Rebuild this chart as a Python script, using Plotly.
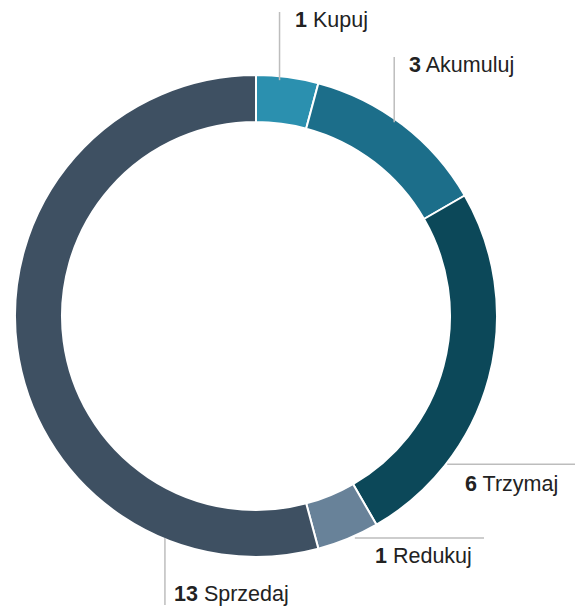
import math
import plotly.graph_objects as go

# ---- data ----
categories = ["Kupuj", "Akumuluj", "Trzymaj", "Redukuj", "Sprzedaj"]
counts = [1, 3, 6, 1, 13]
colors = ["#2B90AF", "#1C6E8A", "#0C4859", "#688299", "#3E5062"]

# ---- layout geometry (pixels) ----
W, H = 577, 610
CX, CY, R = 256, 316, 241
HOLE = 0.805

# leader-line style per label: (anchor angle deg clockwise from top, anchor radius,
#  direction, leader end (px), label x (px), label y (px), text anchor)
leaders = [
    (5.7, 237, "v", 12, 293, 20, "left"),
    (35.5, 238, "v", 57, 407, 65, "left"),
    (127.8, 242, "h", 575, 463, 484, "left"),
    (156.0, 243, "h", 484, 373, 556, "left"),
    (202.3, 240, "v", 605, 172, 594, "left"),
]


def px(a, r):
    t = math.radians(a)
    return CX + r * math.sin(t), CY - r * math.cos(t)


def paper(x, y):
    return x / W, 1 - y / H


fig = go.Figure(
    go.Pie(
        labels=categories,
        values=counts,
        sort=False,
        direction="clockwise",
        rotation=0,
        hole=HOLE,
        marker=dict(colors=colors, line=dict(color="white", width=2)),
        textinfo="none",
        hoverinfo="label+value",
        showlegend=False,
        domain=dict(
            x=[(CX - R) / W, (CX + R) / W],
            y=[1 - (CY + R) / H, 1 - (CY - R) / H],
        ),
    )
)

shapes = []
annotations = []
for (a, r, d, end, lx, ly, anc), cat, n in zip(leaders, categories, counts):
    x0, y0 = px(a, r)
    if d == "v":
        x1, y1 = x0, end
    else:
        x1, y1 = end, y0
    p0 = paper(x0, y0)
    p1 = paper(x1, y1)
    shapes.append(dict(type="line", xref="paper", yref="paper",
                       x0=p0[0], y0=p0[1], x1=p1[0], y1=p1[1],
                       line=dict(color="#BDBDBD", width=1.5)))
    tx, ty = paper(lx, ly)
    annotations.append(dict(
        xref="paper", yref="paper", x=tx, y=ty, xanchor=anc, yanchor="middle",
        text=f"<b>{n}</b> {cat}", showarrow=False,
        font=dict(family="Liberation Sans, Arial, sans-serif", size=21.5, color="#222222"),
    ))

fig.update_layout(
    width=W, height=H,
    margin=dict(l=0, r=0, t=0, b=0),
    paper_bgcolor="white",
    plot_bgcolor="white",
    shapes=shapes,
    annotations=annotations,
)

html = fig.to_html(include_plotlyjs=True, full_html=True,
                   config={"displayModeBar": False})
html = html.replace("<head>", "<head><style>html,body{margin:0;padding:0;overflow:hidden;}</style>", 1)
with open("out.html", "w", encoding="utf-8") as f:
    f.write(html)
